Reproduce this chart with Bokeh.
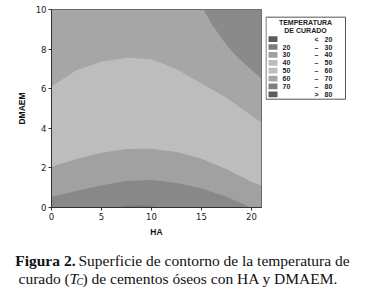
from bokeh.plotting import figure
from bokeh.layouts import column, row
from bokeh.models import Range1d, FixedTicker
from bokeh.core.properties import value
from bokeh.embed import file_html
from bokeh.resources import INLINE

# ---- data ----
ha = [0, 2.5, 5, 7.5, 10, 12.5, 15, 17.5, 20, 21]
bound_20_30_top = [0.54, 0.85, 1.13, 1.35, 1.40, 1.25, 0.97, 0.55, 0.0, 0.0]
bound_30_40_top = [2.06, 2.45, 2.77, 2.95, 2.97, 2.80, 2.46, 1.93, 1.30, 1.10]
bound_light_top = [6.13, 6.95, 7.38, 7.57, 7.50, 7.00, 6.28, 5.55, 4.65, 4.30]
ha_corner = [15.2, 16, 17, 18, 19, 20, 21]
bound_corner = [10.0, 9.28, 8.55, 7.90, 7.40, 6.95, 6.50]
ha_strip = [6.7, 7.5, 8.8, 10.0, 10.9]
bound_strip = [0.0, 0.07, 0.1, 0.07, 0.0]

x_ticks = [0, 5, 10, 15, 20]
y_ticks = [0, 2, 4, 6, 8, 10]

legend_title = ["TEMPERATURA", "DE CURADO"]
legend_lo = ["", "20", "30", "40", "50", "60", "70", ""]
legend_sep = ["<", "\u2013", "\u2013", "\u2013", "\u2013", "\u2013", "\u2013", ">"]
legend_hi = ["20", "30", "40", "50", "60", "70", "80", "80"]
legend_colors = ["#5c5c5c", "#7e7e7e", "#a0a0a0", "#bcbcbc", "#bebebe", "#a6a6a6", "#808080", "#5c5c5c"]

# ---- main contour plot ----
main = figure(width=265, height=245, x_range=Range1d(0, 21), y_range=Range1d(0, 10),
              output_backend="svg", toolbar_location=None,
              min_border_left=51, min_border_right=4, min_border_top=9, min_border_bottom=38)
main.grid.visible = False
main.outline_line_color = "#555555"
main.background_fill_color = "#a6a6a6"

main.varea(x=ha, y1=[0] * len(ha), y2=bound_20_30_top, fill_color="#888888")
main.varea(x=ha, y1=bound_20_30_top, y2=bound_30_40_top, fill_color="#a1a1a1")
main.varea(x=ha, y1=bound_30_40_top, y2=bound_light_top, fill_color="#bdbdbd")
main.varea(x=ha, y1=bound_light_top, y2=[10] * len(ha), fill_color="#a6a6a6")
main.varea(x=ha_corner, y1=bound_corner, y2=[10] * len(ha_corner), fill_color="#8a8a8a")
main.varea(x=ha_strip, y1=[0] * len(ha_strip), y2=bound_strip, fill_color="#767676")

for ax in (main.xaxis[0], main.yaxis[0]):
    ax.axis_line_color = "#333333"
    ax.major_tick_line_color = "#333333"
    ax.major_tick_out = 3
    ax.major_tick_in = 0
    ax.minor_tick_line_color = None
    ax.major_label_text_font = "DejaVu Sans"
    ax.major_label_text_font_size = "8.5px"
    ax.major_label_text_color = "#222222"
    ax.major_label_standoff = 2
    ax.axis_label_text_font = "Liberation Sans"
    ax.axis_label_text_font_size = "8.5px"
    ax.axis_label_text_font_style = "bold"
    ax.axis_label_text_color = "#111111"

main.xaxis.ticker = FixedTicker(ticks=x_ticks)
main.yaxis.ticker = FixedTicker(ticks=y_ticks)
main.xaxis.axis_label = "HA"
main.yaxis.axis_label = "DMAEM"
main.xaxis.axis_label_standoff = 4
main.yaxis.axis_label_standoff = 6

# ---- legend panel ----
leg = figure(width=102, height=245, x_range=Range1d(0, 102), y_range=Range1d(245, 0),
             output_backend="svg", toolbar_location=None, x_axis_type=None, y_axis_type=None,
             min_border=0)
leg.outline_line_color = None
leg.quad(left=[0.5], right=[80], top=[9.5], bottom=[111], fill_color=None, line_color="#555555", line_width=1)
leg.text(x=[40, 40], y=[16, 25.5], text=legend_title, text_align="center", text_baseline="middle",
         text_font=value("Liberation Sans"), text_font_size="7px", text_font_style="bold", text_color="#222222")
n = len(legend_colors)
ys = [36.7 + i * 9.75 for i in range(n)]
leg.quad(left=[3] * n, right=[12] * n, top=[y - 3.5 for y in ys], bottom=[y + 3.5 for y in ys],
         fill_color=legend_colors, line_color=None)
common = dict(text_baseline="middle", text_font=value("Liberation Sans"), text_font_size="7px",
              text_font_style="bold", text_color="#222222")
leg.text(x=[17] * n, y=ys, text=legend_lo, text_align="left", **common)
leg.text(x=[51] * n, y=ys, text=legend_sep, text_align="center", **common)
leg.text(x=[59] * n, y=ys, text=legend_hi, text_align="left", **common)

# ---- caption panel ----
cap = figure(width=367, height=42, x_range=Range1d(0, 367), y_range=Range1d(42, 0),
             output_backend="svg", toolbar_location=None, x_axis_type=None, y_axis_type=None,
             min_border=0)
cap.outline_line_color = None
serif = value("Liberation Serif")
cap.text(x=[75], y=[15], text=["Figura 2."], text_align="right", text_baseline="alphabetic",
         text_font=serif, text_font_size="15.5px", text_font_style="bold", text_color="#111111")
cap.text(x=[78], y=[15], text=["Superficie de contorno de la temperatura de"], text_align="left",
         text_baseline="alphabetic", text_font=serif, text_font_size="15.5px", text_color="#111111")
cap.text(x=[18], y=[32.5], text=["curado ("], text_align="left", text_baseline="alphabetic",
         text_font=serif, text_font_size="15.5px", text_color="#111111")
cap.text(x=[69], y=[32.5], text=["T"], text_align="left", text_baseline="alphabetic",
         text_font=serif, text_font_size="15.5px", text_font_style="italic", text_color="#111111")
cap.text(x=[76], y=[35.5], text=["C"], text_align="left", text_baseline="alphabetic",
         text_font=serif, text_font_size="10px", text_font_style="italic", text_color="#111111")
cap.text(x=[82], y=[32.5], text=[") de cementos óseos con HA y DMAEM."], text_align="left",
         text_baseline="alphabetic", text_font=serif, text_font_size="15.5px", text_color="#111111")

layout = column(row(main, leg), cap)
open("out.html", "w").write(file_html(layout, INLINE))
